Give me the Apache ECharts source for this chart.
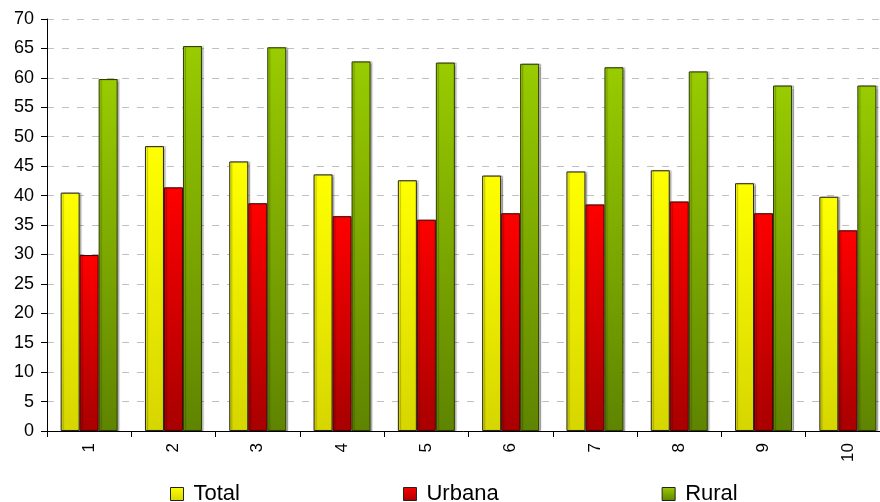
<!DOCTYPE html>
<html><head><meta charset="utf-8">
<script src="https://cdn.jsdelivr.net/npm/echarts@6/dist/echarts.min.js"></script>
<style>html,body{margin:0;padding:0;background:#fff}#c{width:880px;height:502px}</style>
</head><body><div id="c"></div>
<script>
const categories = ['1','2','3','4','5','6','7','8','9','10'];
const totalValues = [40.5, 48.4, 45.8, 43.6, 42.6, 43.4, 44.1, 44.3, 42.1, 39.8];
const urbanaValues = [29.9, 41.4, 38.7, 36.5, 35.9, 37.0, 38.5, 39.0, 37.0, 34.1];
const ruralValues = [59.8, 65.4, 65.2, 62.8, 62.6, 62.4, 61.8, 61.1, 58.7, 58.7];
const seriesNames = ['Total', 'Urbana', 'Rural'];

const FONT = '"Liberation Sans", Arial, sans-serif';
function grad(top, bottom) {
  return new echarts.graphic.LinearGradient(0, 0, 0, 1, [
    {offset: 0, color: top}, {offset: 1, color: bottom}
  ]);
}
const styles = [
  {top: '#FFFF00', bottom: '#D6D600', border: '#222222'},
  {top: '#FF0000', bottom: '#A80000', border: '#4a0000'},
  {top: '#99CC00', bottom: '#5F8400', border: '#2a3a00'}
];
const dataSets = [totalValues, urbanaValues, ruralValues];

const chart = echarts.init(document.getElementById('c'), null, {renderer: 'canvas'});
chart.setOption({
  animation: false,
  backgroundColor: '#fff',
  textStyle: {fontFamily: FONT},
  grid: {left: 47, top: 19, bottom: 71, right: -10, containLabel: false, outerBoundsMode: 'none'},
  legend: {
    data: seriesNames.map((n, i) => ({name: n, itemStyle: {color: grad(styles[i].top, styles[i].bottom), borderColor: '#222', borderWidth: 1}})),
    left: 165, top: 478,
    itemWidth: 13, itemHeight: 13,
    itemGap: 163,
    icon: 'rect',
    textStyle: {fontSize: 22, color: '#000', fontFamily: FONT, padding: [0, 0, 0, 5]}
  },
  xAxis: {
    type: 'category',
    data: categories,
    axisLine: {lineStyle: {color: '#000', width: 1}},
    axisTick: {show: true, length: 6, lineStyle: {color: '#000'}},
    axisLabel: {rotate: 90, margin: 12, fontSize: 17, color: '#000', fontFamily: FONT},
    splitLine: {show: false}
  },
  yAxis: {
    type: 'value',
    min: 0, max: 70, interval: 5,
    axisLine: {show: true, lineStyle: {color: '#000', width: 1}},
    axisTick: {show: true, length: 6, lineStyle: {color: '#000'}},
    axisLabel: {fontSize: 18, color: '#000', margin: 13, fontFamily: FONT},
    splitLine: {show: true, lineStyle: {color: '#C0C0C0', type: [7, 8], width: 1}}
  },
  series: seriesNames.map((n, i) => ({
    name: n,
    type: 'bar',
    data: dataSets[i],
    barWidth: 19,
    barGap: '0%',
    itemStyle: {
      color: grad(styles[i].top, styles[i].bottom),
      borderColor: styles[i].border,
      borderWidth: 1,
      shadowColor: 'rgba(0,0,0,0.25)',
      shadowOffsetX: 2,
      shadowOffsetY: 0,
      shadowBlur: 1
    }
  }))
});
</script>
</body></html>
